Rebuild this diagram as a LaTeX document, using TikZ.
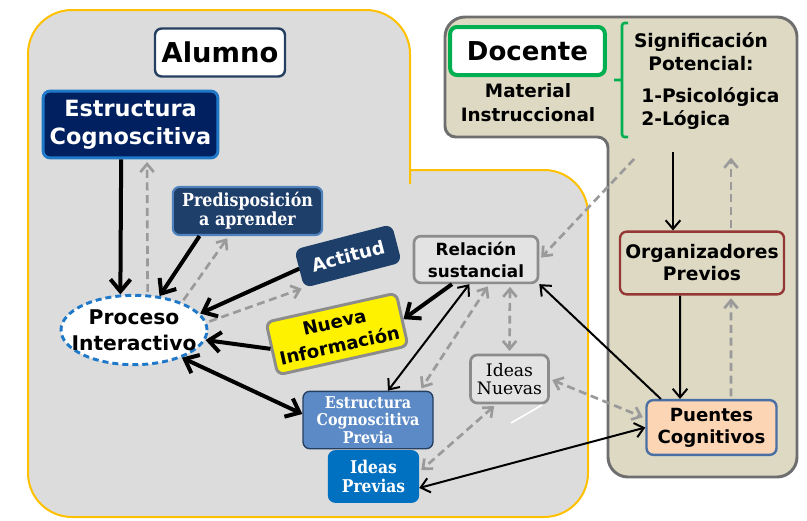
\documentclass[tikz,border=0pt]{standalone}
\usepackage{fontspec}
\setmainfont{DejaVu Sans}
\newfontfamily\serifestrecha[FakeStretch=0.88]{DejaVu Serif}
\newfontfamily\serifnormal{DejaVu Serif}
\usetikzlibrary{arrows.meta, shapes.geometric}
\definecolor{alumnogris}{HTML}{DCDCDC}
\definecolor{alumnoborde}{HTML}{FFC000}
\definecolor{docentefondo}{HTML}{DDD9C3}
\definecolor{docenteborde}{HTML}{6E6E6E}
\definecolor{titulo}{HTML}{243F60}
\definecolor{marino}{HTML}{002060}
\definecolor{azulborde}{HTML}{1F78C8}
\definecolor{azuloscuro}{HTML}{1F3F6B}
\definecolor{azulsuave}{HTML}{4F81BD}
\definecolor{azulclaro}{HTML}{5B8AC6}
\definecolor{azulmedio}{HTML}{0070C0}
\definecolor{verde}{HTML}{00B050}
\definecolor{rojoborde}{HTML}{953735}
\definecolor{durazno}{HTML}{FCD5B5}
\definecolor{puenteborde}{HTML}{4A6FA5}
\definecolor{grisborde}{HTML}{8C8C8C}
\definecolor{griscaja}{HTML}{E3E3E3}
\definecolor{flecha}{HTML}{9A9A9A}

\begin{document}
\begin{tikzpicture}[x=0.75pt, y=-0.75pt,
    caja/.style={draw, rounded corners=5pt, align=center, inner sep=0pt, line width=1.6pt},
    flechagruesa/.style={line width=3pt, >={Straight Barb[length=9pt, width=15pt]}},
    flechafina/.style={line width=1.5pt, >={Straight Barb[length=6.5pt, width=11pt]}},
    flechagris/.style={flecha, line width=2pt, dash pattern=on 6pt off 3.5pt, >={Straight Barb[length=6pt, width=10pt]}, shorten >=2pt, shorten <=2pt}]
    \newcommand*{\radio}{33pt}
    \useasboundingbox (0,0) rectangle (807,521);
    \draw[alumnoborde, fill=alumnogris, line width=1.5pt, rounded corners=\radio] (28,250) |- (410,10) -- (410,140) [sharp corners] -- (410,170) -- (530,170) [rounded corners=\radio] -| (588,517) -| (28,250) -- cycle;
    \draw[docenteborde, fill=docentefondo, line width=2.2pt, rounded corners=15pt] (445,80) |- (797,17) |- (608,477) [rounded corners=8pt] |- (445,137) [rounded corners=15pt] -- cycle;
    \draw[verde, line width=2pt, rounded corners=2pt] (628,23) -| (622,137) -- (628,137) (622,80) -- (614,80);

    \node[caja, fill=white, draw=titulo, line width=1.8pt, minimum width=97.5pt, minimum height=36pt, font=\fontsize{20.5}{24}\selectfont\bfseries] (alumno) at (220,52.5) {Alumno};
    \node[caja, fill=white, draw=verde, line width=3pt, minimum width=116pt, minimum height=36pt, font=\fontsize{19.5}{24}\selectfont\bfseries] (docente) at (527.5,51) {Docente};
    \node[align=center, font=\fontsize{13.8}{18}\selectfont\bfseries] (material) at (528,103) {Material\\Instruccional};
    \node[align=center, font=\fontsize{14}{17.3}\selectfont\bfseries] (signif) at (701,51.5) {Significación\\Potencial:};
    \node[align=left, anchor=west, inner sep=0pt, font=\fontsize{14}{17.3}\selectfont\bfseries] (tipos) at (641,108.5) {1-Psicológica\\2-Lógica};

    \node[caja, fill=marino, draw=azulborde, line width=2.2pt, text=white, minimum width=131pt, minimum height=50pt, font=\fontsize{16.8}{21}\selectfont\bfseries] (estcog) at (130.5,124.5) {Estructura\\Cognoscitiva};
    \node[caja, fill=azuloscuro, draw=azulsuave, text=white, minimum width=112pt, minimum height=36pt, font=\fontsize{13.5}{14.5}\serifestrecha\bfseries] (predis) at (247.5,211) {Predisposición\\a aprender};
    \node[caja, fill=azuloscuro, draw=azuloscuro, text=white, rotate=14.6, minimum width=74pt, minimum height=28pt, font=\fontsize{13.7}{16}\selectfont\bfseries] (actitud) at (348,256) {Actitud};
    \node[caja, fill=yellow, draw=grisborde, line width=2.2pt, rotate=12.6, minimum width=100pt, minimum height=40.5pt, font=\fontsize{13.6}{18}\selectfont\bfseries] (nueva) at (337,334) {Nueva\\Información};
    \node[ellipse, draw=azulborde, fill=white, line width=2.2pt, dash pattern=on 4.5pt off 3pt, inner sep=0pt, minimum width=109.5pt, minimum height=52pt] (proceso) at (134,330) {};
    \node[align=center, inner sep=0pt, font=\fontsize{15.2}{19.5}\selectfont\bfseries] (procesotxt) at (proceso.center) {Proceso\\Interactivo};
    \node[caja, fill=griscaja, draw=grisborde, line width=2pt, minimum width=93pt, minimum height=35pt, font=\fontsize{12.6}{16.5}\selectfont\bfseries] (relacion) at (476,259.5) {Relación\\sustancial};
    \node[caja, fill=griscaja, draw=grisborde, line width=2pt, minimum width=58.5pt, minimum height=36pt, font=\fontsize{12.9}{14}\serifnormal] (ideasnuevas) at (509.5,379) {Ideas\\Nuevas};
    \node[caja, fill=azulclaro, draw=titulo, line width=1pt, text=white, minimum width=97.5pt, minimum height=43pt, font=\fontsize{12.2}{13}\serifestrecha\bfseries] (ecprevia) at (368,420) {Estructura\\Cognoscitiva\\Previa};
    \node[caja, fill=azulmedio, draw=azulmedio, text=white, minimum width=67pt, minimum height=38pt, font=\fontsize{13.2}{14.3}\serifestrecha\bfseries] (ideasprevias) at (373.5,476.5) {Ideas\\Previas};
    \node[caja, fill=docentefondo, draw=rojoborde, line width=1.8pt, minimum width=123pt, minimum height=47pt, font=\fontsize{14}{16.5}\selectfont\bfseries] (organiz) at (702,263) {Organizadores\\Previos};
    \node[caja, fill=durazno, draw=puenteborde, line width=1.8pt, minimum width=97.5pt, minimum height=41pt, font=\fontsize{13.6}{16.5}\selectfont\bfseries] (puentes) at (711.5,427.5) {Puentes\\Cognitivos};

    \coordinate (docA) at (673,152);
    \coordinate (docB) at (731,155);
    \coordinate (docC) at (636,157);
    \coordinate (blancoA) at (511,423);
    \coordinate (blancoB) at (542,405);
    \draw[white, line width=1.2pt] (blancoA) -- (blancoB);

    \draw[flechagruesa,->] ([xshift=-7pt]estcog.south) -- (proceso.111);
    \draw[flechagris,->] (proceso.69) -- ([xshift=12.4pt]estcog.south);
    \draw[flechagruesa,->] ([xshift=-36pt]predis.south) -- (proceso.53);
    \draw[flechagris,->] (proceso.30) -- ([xshift=-14pt]predis.south);
    \draw[flechagruesa,->] (actitud.west) -- (proceso.14);
    \draw[flechagris,->] (proceso.6) -- (actitud.south west);
    \draw[flechagruesa,->] (nueva.west) -- (proceso.352);
    \draw[flechagruesa,<->] (proceso.330) -- ([yshift=4.5pt]ecprevia.west);
    \draw[flechagruesa,->] ([xshift=-18pt]relacion.south) -- (nueva.east);
    \draw[flechafina,<->] ([xshift=-5pt]relacion.south) -- ([xshift=15pt]ecprevia.north);
    \draw[flechagris,<->] ([xshift=10pt]relacion.south) -- ([xshift=39pt]ecprevia.north);
    \draw[flechagris,<->] ([xshift=25.5pt]relacion.south) -- (ideasnuevas.north);
    \draw[flechagris,<->] ([xshift=-10pt]ideasnuevas.south) -- ([yshift=3.4pt]ideasprevias.east);
    \draw[flechagris,<->] (ideasnuevas.east) -- ([yshift=7pt]puentes.west);
    \draw[flechafina,<->] ([yshift=-8.6pt]ideasprevias.east) -- (puentes.west);
    \draw[flechafina,->] ([xshift=-38pt]puentes.north) -- (relacion.south east);
    \draw[flechafina,->] ([xshift=-16.5pt]organiz.south) -- ([xshift=-23.6pt]puentes.north);
    \draw[flechagris,->] ([xshift=14.6pt]puentes.north) -- ([xshift=21.75pt]organiz.south);
    \draw[flechafina,->] (docA) -- ([xshift=-21.75pt]organiz.north);
    \draw[flechagris,->] ([xshift=21.75pt]organiz.north) -- (docB);
    \draw[flechagris,->] (docC) -- (relacion.east);
\end{tikzpicture}
\end{document}
